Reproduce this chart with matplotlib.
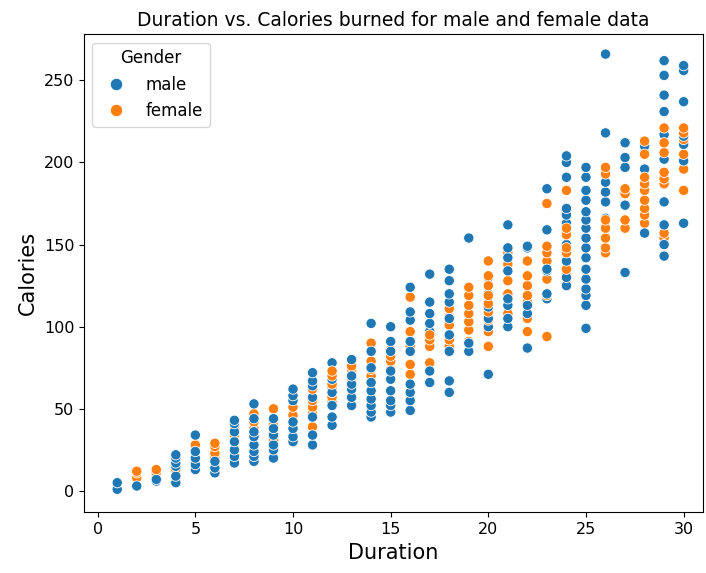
import numpy as np
import pandas as pd
import matplotlib
matplotlib.use("Agg")
import matplotlib.pyplot as plt
import seaborn as sns

# Calories, one list per duration (1..30 min)
durations = list(range(1, 31))

male_cal = [
    [1, 5],
    [3],
    [6, 7],
    [5, 9, 15, 17, 20, 22],
    [13, 16, 20, 24, 34],
    [11, 14, 18],
    [17, 21, 25, 30, 36, 41, 43],
    [18, 21, 24, 28, 33, 36, 44, 53],
    [20, 25, 28, 34, 38, 44],
    [30, 33, 38, 42, 55, 58, 62],
    [28, 34, 45, 57, 64, 67, 72],
    [40, 45, 52, 60, 68, 78],
    [52, 57, 62, 65, 70, 80],
    [45, 48, 52, 56, 61, 66, 75, 85, 102],
    [48, 52, 55, 61, 68, 73, 85, 91, 100],
    [49, 55, 60, 65, 85, 91, 104, 109, 124],
    [66, 73, 97, 102, 108, 115, 132],
    [60, 67, 85, 95, 105, 115, 120, 128, 135],
    [85, 90, 154],
    [71, 100, 105, 112, 120, 130],
    [100, 105, 113, 117, 134, 142, 148, 162],
    [87, 108, 113, 148, 149],
    [117, 120, 134, 135, 159, 184],
    [125, 130, 140, 150, 163, 168, 172, 191, 200, 204],
    [99, 113, 119, 123, 129, 135, 142, 148, 154, 160, 165, 170, 177, 183, 191, 197],
    [160, 166, 176, 182, 188, 218, 266],
    [133, 174, 197, 203, 212],
    [157, 196, 206, 210],
    [143, 150, 162, 176, 202, 217, 231, 241, 253, 262],
    [163, 201, 211, 216, 237, 256, 259],
]

female_cal = [
    [],
    [8, 11, 12],
    [9, 11, 13],
    [12, 13],
    [27, 28],
    [20, 23, 27, 29],
    [34, 38],
    [33, 38, 42, 47],
    [31, 36, 40, 50],
    [42, 46, 51],
    [39, 47, 51, 55, 62],
    [54, 57, 60, 63, 65, 70, 73],
    [66, 68, 72, 74, 76],
    [70, 74, 79, 85, 90],
    [74, 79, 82, 86],
    [71, 77, 88, 97, 118],
    [78, 88, 92, 95],
    [88, 92, 101, 106, 111],
    [91, 98, 103, 108, 113, 119, 124],
    [88, 97, 104, 109, 114, 119, 125, 131, 140],
    [108, 120, 128, 138, 145],
    [97, 105, 115, 119, 125, 131, 140],
    [94, 119, 129, 140, 145, 149, 175],
    [126, 132, 135, 145, 148, 156, 160, 183],
    [113, 142, 165],
    [145, 148, 154, 160, 165, 193, 197],
    [160, 165, 181, 184],
    [163, 168, 172, 177, 183, 187, 191, 205, 213],
    [151, 154, 157, 187, 190, 194, 206, 212, 221],
    [183, 196, 205, 214, 218, 221],
]

# mezclar filas para que unos puntos tapen a otros como en el original
rows = []
for d, m, f in zip(durations, male_cal, female_cal):
    n = max(len(m), len(f))
    for i in range(n):
        if i < len(f):
            rows.append((d, f[i], "female"))
        if i < len(m):
            rows.append((d, m[i], "male"))
df = pd.DataFrame(rows, columns=["Duration", "Calories", "Gender"])

fig = plt.figure(figsize=(7.06, 5.73), dpi=100)
ax = fig.add_axes([0.119, 0.106, 0.877, 0.834])
sns.scatterplot(data=df, x="Duration", y="Calories", hue="Gender",
                hue_order=["male", "female"], s=55, ax=ax)

ax.set_title("Duration vs. Calories burned for male and female data", fontsize=13.5)
ax.set_xlabel("Duration", fontsize=15)
ax.set_ylabel("Calories", fontsize=15)
ax.tick_params(labelsize=11.5)
ax.set_xlim(-0.7, 31)
ax.set_ylim(-13, 278)
ax.set_xticks([0, 5, 10, 15, 20, 25, 30])
ax.set_yticks([0, 50, 100, 150, 200, 250])
ax.legend(title="Gender", loc="upper left", fontsize=12, title_fontsize=12, markerscale=1.2)

fig.savefig("out.png", dpi=100)
